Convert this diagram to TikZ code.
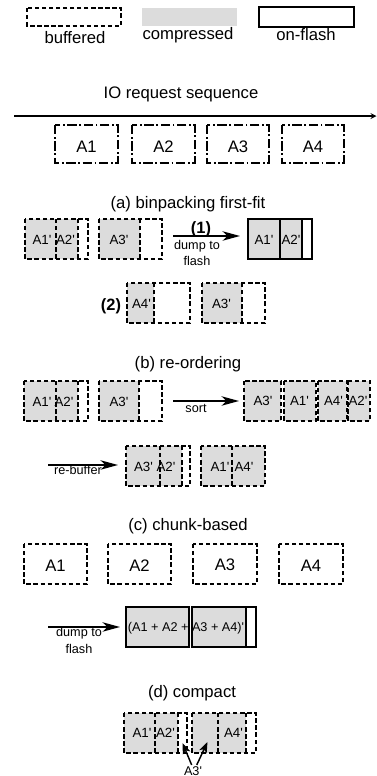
\documentclass[tikz,border=0pt]{standalone}
\usepackage{fontspec}
\setmainfont{Liberation Sans}
\usetikzlibrary{positioning,arrows.meta}
\tikzset{>=stealth}
\definecolor{compgray}{RGB}{220,220,220}
\newcommand\pr{\textquotesingle}
\tikzset{
  buf/.style={line width=1pt,dash pattern=on 3.3pt off 2pt},
  req/.style={line width=.9pt,dash pattern=on 7pt off 2pt on 1.3pt off 2pt},
  onflash/.style={line width=1.4pt},
  comp/.style={fill=compgray},
  ttl/.style={anchor=base,inner sep=0pt,font=\fontsize{12.5}{15}\selectfont},
  cell/.style={anchor=base,inner sep=0pt,font=\fontsize{10}{12}\selectfont},
  note/.style={inner sep=0pt,align=center,font=\fontsize{9.5}{12.4}\selectfont},
  stepno/.style={anchor=base,inner sep=0pt,font=\bfseries\fontsize{12.3}{14}\selectfont},
  push/.style={line width=1.5pt,-{Stealth[length=13pt,width=7pt,inset=3.5pt]}},
  poke/.style={line width=1.1pt,-{Stealth[length=8pt,width=6pt,inset=2pt]}}
}

\begin{document}
\begin{tikzpicture}[x=.75pt,y=-.75pt]
\useasboundingbox (0,0) rectangle (377,776);
\draw[buf] (27,8) rectangle (121,26);
\node[ttl] (lbuf) at (75,43) {buffered};
\fill[comp] (142,8) rectangle (237,26);
\node[ttl] (lcomp) at (188,39.5) {compressed};
\draw[onflash] (259,7) rectangle (354,27);
\node[ttl] (lflash) at (306,40.5) {on-flash};

\node[ttl] (seq) at (181,98) {IO request sequence};
\coordinate (seqa) at (14,116);
\coordinate (seqb) at (376.5,116);
\draw[line width=1pt,->] (seqa) -- (seqb);
\draw[req] (55,125) rectangle (118,163);
\node[ttl] (r1) at (86.5,152) {A1};
\draw[req] (132,125) rectangle (195,163);
\node[ttl] (r2) at (163.5,152) {A2};
\draw[req] (207,125) rectangle (269,163);
\node[ttl] (r3) at (238,152) {A3};
\draw[req] (282,125) rectangle (344,163);
\node[ttl] (r4) at (313,152) {A4};

\node[ttl] (ta) at (188,208.5) {(a) binpacking first-fit};
\fill[comp] (25,219) rectangle (78,259);
\draw[buf] (25,219) rectangle (88,259) (56,219) -- (56,259) (78,219) -- (78,259);
\node[cell] (a1) at (42,244.5) {A1\pr};
\node[cell] (a2) at (65.5,244.5) {A2\pr};
\fill[comp] (99,219) rectangle (140,259);
\draw[buf] (99,219) rectangle (162,259) (140,219) -- (140,259);
\node[cell] (a3) at (119,244.5) {A3\pr};
\coordinate (dumpa) at (173,236);
\coordinate (flasha) at (240,236);
\draw[push] (dumpa) -- (flasha);
\node[stepno] (one) at (201,233) {(1)};
\node[note,anchor=north] (dumpla) at (197,240) {dump to\\flash};
\fill[comp] (248,219) rectangle (302,259);
\draw[onflash] (248,219) rectangle (312,259) (280,219) -- (280,259) (302,219) -- (302,259);
\node[cell] (fa1) at (264,244.5) {A1\pr};
\node[cell] (fa2) at (291,244.5) {A2\pr};

\node[stepno] (two) at (111,310) {(2)};
\fill[comp] (127,283) rectangle (154,323);
\draw[buf] (127,283) rectangle (190,323) (154,283) -- (154,323);
\node[cell] (a4) at (141.5,308) {A4\pr};
\fill[comp] (202,283) rectangle (242,323);
\draw[buf] (202,283) rectangle (265,323) (242,283) -- (242,323);
\node[cell] (a3b) at (221.5,308) {A3\pr};

\node[ttl] (tb) at (188,368.5) {(b) re-ordering};
\fill[comp] (24,381) rectangle (78,421);
\draw[buf] (24,381) rectangle (88,421) (56,381) -- (56,421) (78,381) -- (78,421);
\node[cell] (b1) at (42,406) {A1\pr};
\node[cell] (b2) at (64,406) {A2\pr};
\fill[comp] (99,381) rectangle (139,421);
\draw[buf] (99,381) rectangle (162,421) (139,381) -- (139,421);
\node[cell] (b3) at (119,406) {A3\pr};
\coordinate (sorta) at (173,401);
\coordinate (sortb) at (239,401);
\draw[push] (sorta) -- (sortb);
\node[note,anchor=base] (sortl) at (196,412.5) {sort};
\filldraw[comp,buf] (244,381) rectangle (281,421);
\node[cell] (s3) at (263,405) {A3\pr};
\filldraw[comp,buf] (284,381) rectangle (316,421);
\node[cell] (s1) at (299.5,405) {A1\pr};
\filldraw[comp,buf] (318,381) rectangle (347,421);
\node[cell] (s4) at (333.5,405) {A4\pr};
\filldraw[comp,buf] (348,381) rectangle (370,421);
\node[cell] (s2) at (358,405) {A2\pr};

\coordinate (rebufa) at (48,465);
\coordinate (rebufb) at (118,465);
\draw[push] (rebufa) -- (rebufb);
\node[note,anchor=base] (rebufl) at (78,474) {re-buffer};
\fill[comp] (126,446) rectangle (182,486);
\draw[buf] (126,446) rectangle (190,486) (160,446) -- (160,486) (182,446) -- (182,486);
\node[cell] (c3) at (143.5,471.5) {A3\pr};
\node[cell] (c2) at (166,471.5) {A2\pr};
\fill[comp] (201,446) rectangle (265,486);
\draw[buf] (201,446) rectangle (265,486) (232,446) -- (232,486);
\node[cell] (c1) at (220,471.5) {A1\pr};
\node[cell] (c4) at (244,471.5) {A4\pr};

\node[ttl] (tc) at (188,530) {(c) chunk-based};
\draw[buf] (24,544) rectangle (87,584);
\node[ttl] (k1) at (55.5,571.5) {A1};
\draw[buf] (108,544) rectangle (171,584);
\node[ttl] (k2) at (139.5,571.5) {A2};
\draw[buf] (193,544) rectangle (257,584);
\node[ttl] (k3) at (225,570.5) {A3};
\draw[buf] (279,544) rectangle (343,584);
\node[ttl] (k4) at (311,571.5) {A4};
\coordinate (dumpc) at (48,627);
\coordinate (flashc) at (120,627);
\draw[push] (dumpc) -- (flashc);
\node[note,anchor=north] (dumplc) at (79,627.5) {dump to\\flash};
\fill[comp] (126,607) rectangle (189,647);
\fill[comp] (192,607) rectangle (246,647);
\draw[onflash] (126,607) rectangle (189,647);
\draw[onflash] (192,607) rectangle (256,647) (246,607) -- (246,647);
\node[note,anchor=base] (chunk) at (186,631.5) {(A1 + A2 + A3 + A4)\pr};

\node[ttl] (td) at (192,697.5) {(d) compact};
\fill[comp] (124,713) rectangle (178,753);
\draw[buf] (124,713) rectangle (187,753) (155,713) -- (155,753) (178,713) -- (178,753);
\node[cell] (d1) at (142,737.5) {A1\pr};
\node[cell] (d2) at (165.5,737.5) {A2\pr};
\fill[comp] (192,713) rectangle (246,753);
\draw[buf] (192,713) rectangle (256,753) (218,713) -- (218,753) (246,713) -- (246,753);
\node[cell] (d4) at (233.5,737.5) {A4\pr};
\node[note,anchor=base] (a3x) at (193,775) {A3\pr};
\coordinate (gapl) at (182.5,743);
\coordinate (gapr) at (207.5,742);
\draw[poke] ([xshift=-1pt,yshift=.7pt]a3x.north) -- (gapl);
\draw[poke] ([xshift=2.8pt,yshift=.7pt]a3x.north) -- (gapr);
\end{tikzpicture}
\end{document}
